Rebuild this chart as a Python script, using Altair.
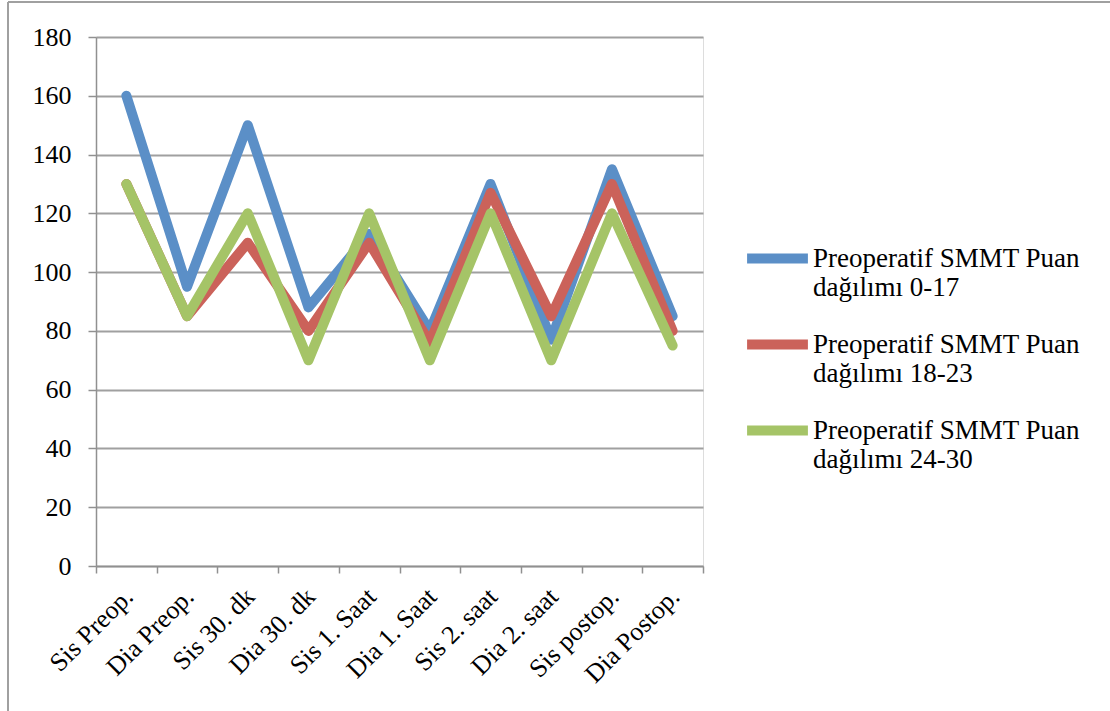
import altair as alt
import pandas as pd

categories = ["Sis Preop.", "Dia Preop.", "Sis 30. dk", "Dia 30. dk", "Sis 1. Saat",
              "Dia 1. Saat", "Sis 2. saat", "Dia 2. saat", "Sis postop.", "Dia Postop."]
series_names = [
    "Preoperatif SMMT Puan|dağılımı 0-17",
    "Preoperatif SMMT Puan|dağılımı 18-23",
    "Preoperatif SMMT Puan|dağılımı 24-30",
]
values_0_17 = [160, 95, 150, 88, 113, 80, 130, 77, 135, 85]
values_18_23 = [130, 85, 110, 80, 110, 76, 127, 85, 130, 80]
values_24_30 = [130, 85, 120, 70, 120, 70, 120, 70, 120, 75]
colors = ["#5B8FC7", "#CB625A", "#A5C467"]

rows = []
for name, vals in zip(series_names, [values_0_17, values_18_23, values_24_30]):
    for i, (cat, v) in enumerate(zip(categories, vals)):
        rows.append({"Kategori": cat, "Seri": name, "Deger": v, "idx": i})
df = pd.DataFrame(rows)

W, H = 607, 529

lines = (
    alt.Chart(df)
    .mark_line(strokeWidth=10, strokeCap="round", strokeJoin="round")
    .encode(
        x=alt.X(
            "Kategori:N",
            sort=categories,
            scale=alt.Scale(type="band", paddingInner=0, paddingOuter=0),
            axis=alt.Axis(
                title=None,
                labelAngle=-45,
                labelAlign="right",
                labelBaseline="top",
                labelFont="Liberation Serif",
                labelFontSize=26,
                labelColor="#000000",
                labelPadding=10,
                labelOffset=-7,
                tickBand="extent",
                tickSize=7,
                tickColor="#909090",
                tickWidth=1.5,
                domainColor="#909090",
                domainWidth=1.5,
                grid=False,
            ),
        ),
        y=alt.Y(
            "Deger:Q",
            scale=alt.Scale(domain=[0, 180], nice=False),
            axis=alt.Axis(
                title=None,
                values=list(range(0, 181, 20)),
                labelFont="Liberation Serif",
                labelFontSize=26,
                labelColor="#000000",
                labelPadding=17,
                tickSize=8,
                tickColor="#909090",
                tickWidth=1.5,
                domainColor="#909090",
                domainWidth=1.5,
                gridColor="#A0A0A0",
                gridWidth=2,
            ),
        ),
        color=alt.Color(
            "Seri:N",
            sort=series_names,
            scale=alt.Scale(domain=series_names, range=colors),
            legend=alt.Legend(
                title=None,
                orient="none",
                legendX=646,
                legendY=186,
                symbolType="stroke",
                symbolStrokeWidth=10,
                symbolSize=3700,
                labelFont="Liberation Serif",
                labelFontSize=27,
                labelColor="#000000",
                labelExpr="split(datum.label, '|')",
                labelLimit=400,
                labelOffset=0,
                rowPadding=8,
            ),
        ),
        order="idx:Q",
    )
)

# thin frame along the top and left edges of the figure
frame_top = alt.Chart(df).mark_rule(color="#A0A0A0", strokeWidth=2).encode(
    x=alt.value(-88), x2=alt.value(1020), y=alt.value(-35)
)
frame_left = alt.Chart(df).mark_rule(color="#A0A0A0", strokeWidth=2).encode(
    x=alt.value(-88), y=alt.value(-35), y2=alt.value(680)
)

chart = (
    alt.layer(lines, frame_top, frame_left)
    .properties(width=W, height=H, autosize=alt.AutoSizeParams(type="none"))
    .configure_view(stroke=None)
    .configure(padding={"left": 96, "top": 37, "right": 407, "bottom": 145})
)

chart.save("out.html", embed_options={"renderer": "svg", "actions": False})
